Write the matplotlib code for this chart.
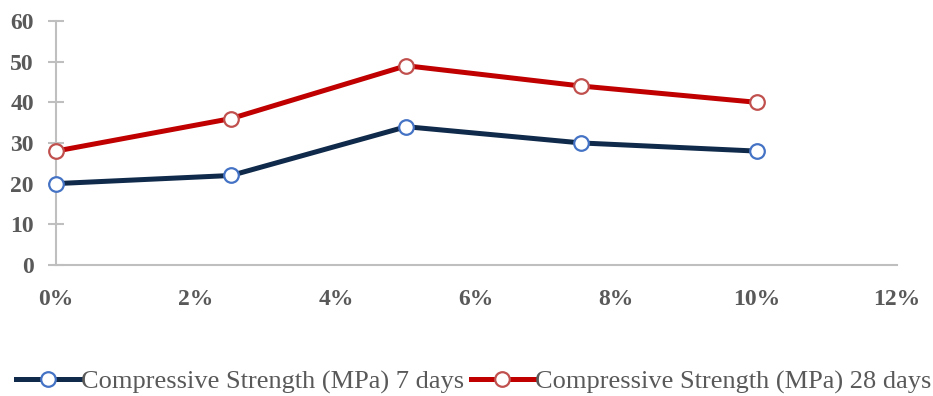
import matplotlib.pyplot as plt
from matplotlib.ticker import PercentFormatter

# replacement level (%)
x = [0, 2.5, 5, 7.5, 10]
days7 = [20, 22, 34, 30, 28]
days28 = [28, 36, 49, 44, 40]
labels = ["Compressive Strength (MPa) 7 days", "Compressive Strength (MPa) 28 days"]

plt.rcParams['font.family'] = ['Liberation Serif', 'DejaVu Serif']

fig = plt.figure(figsize=(9.33, 3.96), dpi=100)
ax = fig.add_axes([0.060, 0.331, 0.901, 0.616])

ax.plot(x, days7, color='#0F2A4A', lw=3.6, marker='o', ms=10.5,
        mfc='white', mec='#4472C4', mew=1.6, label=labels[0])
ax.plot(x, days28, color='#C00000', lw=3.6, marker='o', ms=10.5,
        mfc='white', mec='#C0504D', mew=1.6, label=labels[1])

ax.set_xlim(0, 12)
ax.set_ylim(0, 60)
ax.set_xticks(range(0, 13, 2))
ax.set_yticks(range(0, 61, 10))
ax.xaxis.set_major_formatter(PercentFormatter(decimals=0))

for s in ['top', 'right']:
    ax.spines[s].set_visible(False)
for s in ['left', 'bottom']:
    ax.spines[s].set_color('#BFBFBF')
    ax.spines[s].set_linewidth(1.5)
    ax.spines[s].set_zorder(0)

ax.tick_params(axis='y', direction='inout', length=12, width=1.5, color='#BFBFBF',
               labelsize=17, labelcolor='#595959', pad=10)
ax.tick_params(axis='x', direction='inout', length=0, width=1.5, color='#BFBFBF',
               labelsize=17, labelcolor='#595959', pad=17)
for t in ax.get_xticklabels() + ax.get_yticklabels():
    t.set_fontweight('bold')

for line in ax.lines:
    line.set_clip_on(False)

leg = fig.legend(loc='center', bbox_to_anchor=(0.508, 0.035), ncol=2, frameon=False,
                 fontsize=19, handlelength=2.4, handletextpad=0.05, columnspacing=0.25,
                 borderpad=0, borderaxespad=0)
for t in leg.get_texts():
    t.set_color('#595959')

fig.savefig('out.png', dpi=100)
